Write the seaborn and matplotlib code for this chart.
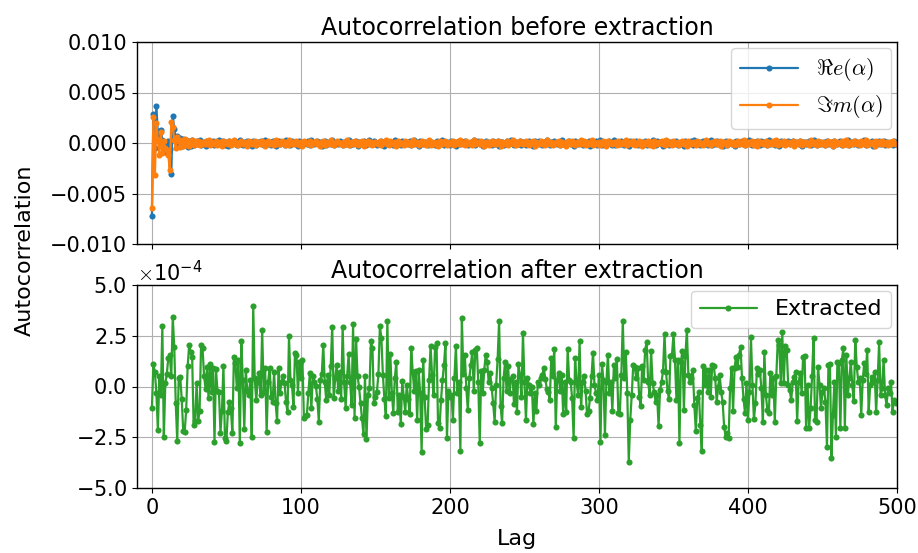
import numpy as np
import pandas as pd
import matplotlib
matplotlib.use("Agg")
import matplotlib.pyplot as plt
import seaborn as sns

# Autocorrelation of the real and imaginary parts before extraction (units of 1e-4)
re_alpha = [
    -72, 29, -5, 37, 8, 12, 13, 3, -4, -9, -1, 2, -6, -31, 27, 14, 4, 7, -2, 5,
    -3, 4, -2, 3, -4, 2, -3, 3, -2, 1,
    2, -1, 3, -2, 0, 1, -3, 2, 1, -1, 0, 2, -2, 1, -1, 3, -1, 0, 2, -2,
    1, -3, 2, 0, -1, 1, 2, -2, 0, 3, -1, -2, 1, 0, 2, -1, 1, -3, 2, 0,
    -2, 1, 0, 2, -1, -2, 3, 0, -1, 1, -2, 2, 0, -3, 1, 2, -1, 0, 1, -2,
    3, -1, 0, -2, 2, 1, -1, 0, -3, 2, 1, -2, 0, 1, -1, 2, -2, 3, 0, -1,
    0, 2, -1, 1, -3, 0, 2, -2, 1, 0, -1, 3, -2, 0, 1, -1, 2, 0, -2, 1,
    -1, 0, 3, -2, 1, -1, 0, 2, -3, 1, 0, -1, 2, 1, -2, 0, 3, -1, -1, 2,
    1, -2, 0, 1, 2, -1, -3, 2, 0, -1, 1, 0, -2, 3, -1, 0, 1, -2, 2, -1,
    0, 1, -1, 2, -2, 0, 3, -1, 1, -3, 2, 0, -1, 1, 0, -2, 2, 1, -1, 0,
    -2, 2, 1, -1, 0, 3, -2, 0, 1, -1, -2, 2, 0, 1, -3, 1, 2, -1, 0, 1,
    2, -1, -2, 0, 1, -1, 3, -2, 0, 2, -1, 1, -3, 0, 2, -1, 0, 1, -2, 2,
    -1, 0, 2, -3, 1, 1, -2, 0, 2, -1, 0, 3, -1, -2, 1, 0, -1, 2, -2, 1,
    0, -2, 1, 2, -1, 0, -3, 2, 1, -1, 2, 0, -2, 1, -1, 3, 0, -2, 1, -1,
    2, 0, -1, 1, -2, 3, -1, 0, -2, 1, 2, -1, 0, -3, 2, 1, -1, 0, 2, -2,
    1, -1, 0, 2, -3, 1, 0, -1, 2, -2, 1, 3, -2, 0, -1, 1, 0, 2, -1, -2,
    3, -2, 1, 0, -1, 2, -1, -2, 0, 1, -3, 2, 0, 1, -1, 2, -2, 0, 1, -1,
    0, 2, -2, 1, 0, -1, 3, -1, -2, 2, 0, 1, -1, -3, 2, 0, 1, -2, 1, 0,
    -1, 1, 2, -2, 0, -1, 1, -3, 2, 1, -1, 0, 2, -2, 3, -1, 0, 1, -2, 1,
    2, -1, 0, -2, 1, 3, -2, 0, -1, 2, -1, 1, 0, -3, 1, 2, -2, 0, 1, -1,
    0, -3, 2, 1, -1, 0, 2, -1, -2, 1, 0, 3, -1, -2, 1, -1, 2, 0, -2, 2,
    -1, 1, 0, -2, 3, -1, 1, 0, -2, 2, -1, -3, 2, 0, 1, -1, 0, 2, -1, 1,
    2, -2, 1, 0, -1, 2, -3, 1, 1, -1, 0, 2, -2, 1, 3, -1, -2, 0, 1, -1,
    0, 1, -2, 2, -1, 0, 1, -3, 2, 0, -1, 1, 2, -2, 0, 1, -1, 3, -2, 0,
    1, -1, 2, 0, -2, 1, -1, 0, 3, -2, 1, -1, 0, 2, -3, 1, 0, -1, 2, -1,
    0, 2, -2, 1, -1, 0, 1, -2, 2, -1,
]
im_alpha = [
    -64, 26, -32, 20, 3, -12, 11, -10, 2, -5, -7, -12, -27, 21, 16, 3, -5, 6, 2, -4,
    3, -3, 4, -2, 2, -3, 1, 3, -2, 2,
    -1, 2, -2, 1, 0, -1, 2, -1, 3, -2, 1, 0, -1, 2, -2, 0, 1, -3, 2, 1,
    0, -1, 2, -2, 1, 3, -1, 0, -2, 1, 2, -1, 0, 1, -3, 2, 0, -1, 1, 2,
    -2, 0, 1, -1, 2, 0, -3, 1, 2, -1, 0, 1, -2, 3, -1, 0, -1, 2, 1, -2,
    1, -2, 3, 0, -1, 1, -1, 2, 0, -2, 1, -3, 2, 1, 0, -1, 2, -2, 0, 1,
    2, -1, 0, -3, 1, 2, -2, 1, 0, -1, 3, -1, -2, 0, 2, 1, -1, 0, -2, 1,
    -1, 3, -2, 0, 1, -1, 2, 0, -2, 1, -1, 2, -3, 1, 0, 2, -1, 1, -2, 0,
    1, 0, -1, 2, -2, 1, 0, 3, -1, -2, 2, 0, -1, 1, -3, 2, 1, -1, 0, -2,
    2, -1, 1, 0, -2, 3, -1, 0, 1, -2, 0, 2, -1, 1, -2, 0, 3, -2, 1, -1,
    0, 1, -3, 2, 0, -1, 1, 2, -2, 0, 1, -1, 2, -2, 1, 0, -1, 3, -1, 0,
    -2, 2, 0, -1, 1, -2, 3, -1, 0, 1, -1, 2, 0, -3, 1, 1, -2, 0, 2, -1,
    1, -1, 2, 0, -3, 1, 0, -1, 2, -2, 1, 0, 3, -1, -2, 1, -1, 2, 0, -1,
    0, 2, -1, -2, 1, 0, 2, -3, 1, -1, 0, 2, -1, 1, -2, 3, 0, -1, 1, -2,
    -1, 1, 0, 2, -2, 1, -1, 0, -3, 2, 1, -1, 2, 0, -2, 1, 0, -1, 3, -1,
    2, -2, 1, -1, 0, 3, -2, 1, 0, -1, 1, -2, 0, 2, -1, -3, 2, 0, 1, -1,
    0, 1, -2, 2, -1, 0, 1, -1, 3, -2, 0, 1, -1, 2, -2, 0, -1, 2, 1, -3,
    1, 0, -1, 2, -2, 1, -3, 2, 0, -1, 1, 0, 2, -1, -2, 3, -1, 0, 1, -2,
    2, -1, 0, 1, -2, 0, 2, -1, 1, -3, 2, 0, -1, 1, 0, -2, 2, 1, -1, 0,
    -2, 1, 3, -1, 0, -2, 1, 0, 2, -1, -1, 2, -3, 1, 0, 1, -2, 2, 0, -1,
    1, -2, 0, 2, -1, 1, -1, 3, -2, 0, 1, -1, 0, 2, -2, 1, -3, 2, 0, 1,
    -1, 0, 2, -2, 1, 0, -1, 2, -1, 3, -2, 0, 1, -1, 2, -2, 0, 1, -1, 0,
    2, -3, 1, 0, -1, 2, -2, 1, 0, 1, -1, -2, 3, 0, -1, 1, -2, 2, 0, -1,
    1, 0, -2, 1, 2, -1, 0, -3, 2, -1, 1, 0, -1, 2, -2, 1, 3, -2, 0, 1,
    -1, 2, 0, -1, 1, -2, 2, 0, -1, 3, -2, 1, 0, -1, 1, -3, 2, 0, 1, -1,
    2, -1, 0, 1, -2, 1, -1, 2, 0, -1,
]

# Autocorrelation of the extracted signal (units of 1e-4)
extracted = [
    -1.08, 1.10, 0.70, -0.30, -2.13, 0.50, -0.40, 2.96, -2.49, 0.16,
    0.60, 1.42, 1.55, 0.50, 3.41, 1.95, -0.83, -2.68, 0.40, 0.48,
    -0.60, -2.18, -2.23, -1.16, 1.01, 2.03, 1.72, 1.47, -1.90, -1.70,
    0.16, -1.70, -1.21, 2.06, 1.88, 0.53, -0.12, 0.98, -0.58, 1.12,
    -0.25, 0.90, -2.72, 0.86, -0.22, -0.29, -2.27, -1.21, 1.03, -2.55,
    -2.67, -1.24, -0.75, -1.08, -2.31, 1.45, 1.14, -0.09, 1.30, -2.80,
    2.24, 0.30, -2.09, 0.80, -0.20, -0.42, 0.30, -2.49, 3.95, 0.40,
    -0.67, 0.20, 0.65, -0.40, 2.77, -0.25, 0.90, -2.23, 0.24, 0.90,
    -0.50, -0.75, 0.70, -0.80, -1.70, 0.93, -0.30, 0.24, 0.50, 0.16,
    -0.75, -1.27, 2.47, 0.30, 0.07, -0.99, 1.63, 1.55, -0.30, 1.22,
    0.40, 1.31, -1.54, -1.45, -1.40, -0.30, 0.65, -1.08, 0.50, 0.24,
    0.04, -0.60, -1.73, 0.30, 0.60, 2.04, 0.20, -0.67, 0.57, -0.40,
    1.01, 2.95, -0.58,
    0.40, 1.06, -0.20, 0.73, -0.60, 2.95, 0.20, -1.04, 0.50, 1.58,
    0.24, -0.90, 3.06, -1.54, 2.34, 0.50, -0.01, -0.83, -1.57, -2.36,
    0.53, -2.59, -0.40, -0.09, 2.24, 1.88, -0.83, -0.50, -0.25, 0.60,
    3.00, 2.37, 0.57, -0.60, -1.45, 3.23, -0.58, 1.58, -0.30, -1.29,
    0.40, 1.19, -1.24, -0.40, -1.86, 0.27, -0.50, -1.24, 0.07, -0.60,
    -1.37, 1.91, 0.73, -0.20, 0.76, -1.67, 0.80, -0.30, -3.24, 1.31,
    -0.50, -2.09, -1.90, 0.30,
    2.01, 0.57, -0.40, 1.96, 2.13, -1.81, -2.06, -0.67, 0.30, 1.06,
    2.13, -2.55, -0.20, -0.50, -0.42, -1.65, 0.40, 2.00, -0.30, 0.24,
    -3.16, 3.36, 0.60, 1.55, -0.09, -1.16, 0.40, 1.06, 1.72, -0.20,
    1.80, 1.91, 0.24, -2.78, 0.76, -0.34, 0.80, 1.55, 1.22, 0.20,
    0.65, -0.06, -0.83, -1.73, 0.07, 1.35, 3.24, -0.94, -1.81, 0.40,
    1.22, -0.22, 1.03, -0.30, 0.37, 0.53, -0.88, 0.20, -1.24, 1.09,
    0.57, -0.50, 2.62,
    0.24, -1.65, 0.40, 0.07, -0.30, -0.01, -1.86, -0.34, -1.21, 0.20,
    0.07, 0.40, 0.57, 0.89, 0.37, -0.10, -0.25, -0.67, 1.39, 0.50,
    1.85, -1.98, 0.30, 0.65, -0.20, 0.57, -1.37, 0.20, -1.24, 1.85,
    0.32, 0.24, -0.58, -2.55, 1.39, 0.20, -0.42, 2.24, -0.99, 0.24,
    0.53, -0.20, -1.37, -1.21, -0.58, 0.50, 1.67, 0.07, -0.30, -0.67,
    0.57, -2.75, 1.11, 0.32, -2.39, 0.24, 1.55, -0.30, 0.24, -1.21,
    1.06, 0.40, 1.35, -1.32,
    -1.37, 0.57, 3.23, 0.40, 1.72, -0.34, -3.70, -1.65, -0.42, 1.06,
    0.98, 0.40, 0.93, -0.50, -0.94, 1.03, 0.30, 1.80, 2.18, 0.24,
    -0.42, 1.75, 0.16, -0.25, -0.75, -0.42, -1.93, -0.17, 0.21, 0.78,
    2.59, 0.73, -0.21, -0.60, 1.52, 1.55, 2.57, 1.31, -0.67, 1.31,
    -2.80, 1.22, 1.77, -1.16, 1.52, 2.78, 0.57, 0.24, 0.40, 0.81,
    -0.91, -2.18, -0.58, -0.25, -1.90, -3.18, 1.01, 0.07, 0.81, -0.25,
    0.80, -0.50, 1.06,
    1.03, 0.40, -0.75, -0.01, 0.57, -0.25, -0.78, -1.98, -2.47, -2.30,
    -2.55, -0.09, 0.89, -1.21, 0.93, 1.47, 0.98, 1.55, 1.96, 0.40,
    -0.60, -1.29, 0.16, -1.65, -0.25, 2.42, 0.07, -1.62, -0.83, 0.89,
    0.60, 0.81, -0.09, -1.73, 1.72, -0.42, -1.16, -1.32, 0.65, -0.42,
    0.40, -1.73, 0.50, 2.29, 2.04, 0.16, 2.67, 0.16, 2.01, 1.80,
    0.07, -0.17, -0.67, 0.21, 0.48, 0.73, -1.70, 0.24, 0.65, -0.30,
    1.47, 1.52, -2.06,
    0.07, -2.06, -1.08, 0.50, 2.37, -1.65, -1.73, 0.98, 0.07, -1.08,
    -0.25, -0.09, -0.75, -2.96, 1.06, 1.09, -3.51, -1.40, 0.24, -2.47,
    1.22, 1.14, -2.06, 1.31, 1.88, -2.03, 1.55, -0.42, 0.40, 1.22,
    0.07, -0.71, 2.29, 0.98, 0.24, 0.40, -1.40, 0.32, 1.14, 0.60,
    1.80, -1.24, 0.07, 0.48, 0.24, 0.70, -1.24, 0.30, 2.18, -0.42,
    -0.09, 1.31, -0.42, -0.91, -0.09, -0.34, 0.20, -1.24, -0.67, -0.83,
]

series_labels = [r"$\Re e(\alpha)$", r"$\Im m(\alpha)$", "Extracted"]
series_colors = ["tab:blue", "tab:orange", "tab:green"]
x_ticks = [0, 100, 200, 300, 400, 500]
top_yticks = [-0.010, -0.005, 0.0, 0.005, 0.010]
bottom_yticks = [-5e-4, -2.5e-4, 0.0, 2.5e-4, 5e-4]

scale = 1e-4
before = pd.DataFrame({
    "Lag": np.concatenate([np.arange(len(re_alpha)), np.arange(len(im_alpha))]),
    "Autocorrelation": np.concatenate([np.array(re_alpha) * scale,
                                       np.array(im_alpha) * scale]),
    "part": [series_labels[0]] * len(re_alpha) + [series_labels[1]] * len(im_alpha),
})
after = pd.DataFrame({
    "Lag": np.arange(len(extracted)),
    "Autocorrelation": np.array(extracted) * scale,
})

sns.set_style("ticks")
plt.rcParams.update({
    "font.family": ["DejaVu Sans"],
    "mathtext.fontset": "cm",
    "font.size": 15,
    "text.color": "black",
    "axes.labelcolor": "black",
    "axes.titlecolor": "black",
    "axes.grid": True,
    "grid.color": "#b0b0b0",
    "grid.linewidth": 0.8,
    "axes.edgecolor": "black",
    "axes.linewidth": 1.0,
    "xtick.color": "black",
    "ytick.color": "black",
    "xtick.labelsize": 15,
    "ytick.labelsize": 15,
    "axes.titlesize": 17,
    "axes.labelsize": 16,
    "legend.fontsize": 16,
})

fig = plt.figure(figsize=(9.18, 5.53), dpi=100)
W, H = 918.0, 553.0
ax1 = fig.add_axes([137 / W, 1 - 244 / H, 760 / W, 202 / H])
ax2 = fig.add_axes([137 / W, 1 - 488 / H, 760 / W, 203 / H], sharex=ax1)

line_kw = dict(marker="o", markersize=4.4, markeredgewidth=0, linewidth=1.6)

for label, color in zip(series_labels[:2], series_colors[:2]):
    sns.lineplot(data=before[before["part"] == label], x="Lag", y="Autocorrelation",
                 color=color, label=label, ax=ax1, sort=False, **line_kw)
sns.lineplot(data=after, x="Lag", y="Autocorrelation", color=series_colors[2],
             label=series_labels[2], ax=ax2, sort=False, **line_kw)

ax1.set_xlim(-10, 500)
ax1.set_xticks(x_ticks)
ax1.set_ylim(-0.010, 0.010)
ax1.set_yticks(top_yticks)
ax1.tick_params(labelbottom=False)
ax1.set_xlabel("")
ax1.set_ylabel("")
ax1.set_title("Autocorrelation before extraction", pad=5)

ax2.set_ylim(-5e-4, 5e-4)
ax2.set_yticks(bottom_yticks)
ax2.ticklabel_format(axis="y", style="sci", scilimits=(0, 0), useMathText=True)
ax2.set_xlabel("Lag", labelpad=8)
ax2.set_ylabel("")
ax2.set_title("Autocorrelation after extraction", pad=5)

for ax in (ax1, ax2):
    for side in ("top", "right", "left", "bottom"):
        ax.spines[side].set_visible(True)
        ax.spines[side].set_color("black")
    ax.legend(loc="upper right", handlelength=2.6, borderaxespad=0.25,
              fancybox=True, framealpha=0.8, labelspacing=0.45)

fig.text(25 / W, 1 - 250 / H, "Autocorrelation", rotation=90,
         va="center", ha="center", fontsize=16)

fig.savefig("out.png", dpi=100)
